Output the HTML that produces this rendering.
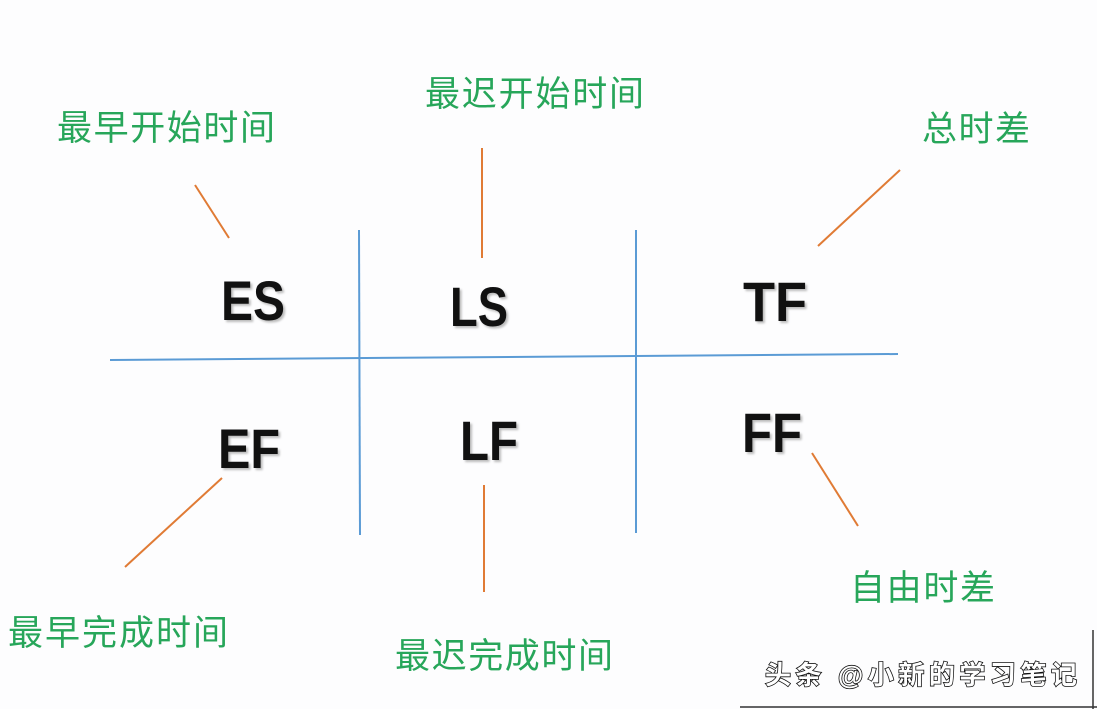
<!DOCTYPE html>
<html><head><meta charset="utf-8"><style>
html,body{margin:0;padding:0;background:#fdfdfe;}
svg{display:block}
.g{font-family:"Liberation Sans","Noto Sans CJK SC",sans-serif;fill:#27a65a;font-size:35px;}
.b{font-family:"Liberation Sans","DejaVu Sans",sans-serif;font-weight:bold;fill:#111;font-size:56px;}
</style></head><body>
<svg width="1097" height="709" viewBox="0 0 1097 709" xmlns="http://www.w3.org/2000/svg">
<rect width="1097" height="709" fill="#fdfdfe"/>
<g stroke="#5b9bd5" stroke-width="2" fill="none">
<line x1="110" y1="360" x2="898" y2="354"/>
<line x1="359" y1="230" x2="360" y2="535"/>
<line x1="636" y1="230" x2="636" y2="533"/>
</g>
<g stroke="#e07b35" stroke-width="2" fill="none">
<line x1="195" y1="185" x2="229" y2="238"/>
<line x1="482" y1="148" x2="482" y2="258"/>
<line x1="900" y1="170" x2="818" y2="246"/>
<line x1="222" y1="478" x2="125" y2="567"/>
<line x1="484" y1="485" x2="484" y2="592"/>
<line x1="812" y1="453" x2="858" y2="526"/>
</g>
<g class="b" style="filter:drop-shadow(2px 2px 1px #bbb)">
<text x="221" y="320" textLength="64" lengthAdjust="spacingAndGlyphs">ES</text>
<text x="450" y="326" textLength="58" lengthAdjust="spacingAndGlyphs">LS</text>
<text x="743" y="321" textLength="64" lengthAdjust="spacingAndGlyphs">TF</text>
<text x="218" y="468" textLength="62" lengthAdjust="spacingAndGlyphs">EF</text>
<text x="460" y="460" textLength="58" lengthAdjust="spacingAndGlyphs">LF</text>
<text x="742" y="452" textLength="60" lengthAdjust="spacingAndGlyphs">FF</text>
</g>
<g class="g">
<text x="57" y="140" textLength="218">最早开始时间</text>
<text x="425" y="106" textLength="219">最迟开始时间</text>
<text x="922" y="141" textLength="108">总时差</text>
<text x="8" y="645" textLength="220">最早完成时间</text>
<text x="395" y="668" textLength="218">最迟完成时间</text>
<text x="850" y="600" textLength="145">自由时差</text>
</g>
<text x="765" y="684" textLength="312" style="font-family:'Liberation Sans','Noto Sans CJK SC',sans-serif;font-size:26px;font-weight:bold;fill:#fff;stroke:#111;stroke-width:1.6px;paint-order:stroke">头条 @小新的学习笔记</text>
<line x1="1093" y1="630" x2="1093" y2="709" stroke="#333" stroke-width="1.5"/>
<line x1="740" y1="707" x2="1097" y2="707" stroke="#333" stroke-width="1.5"/>
</svg>
</body></html>
